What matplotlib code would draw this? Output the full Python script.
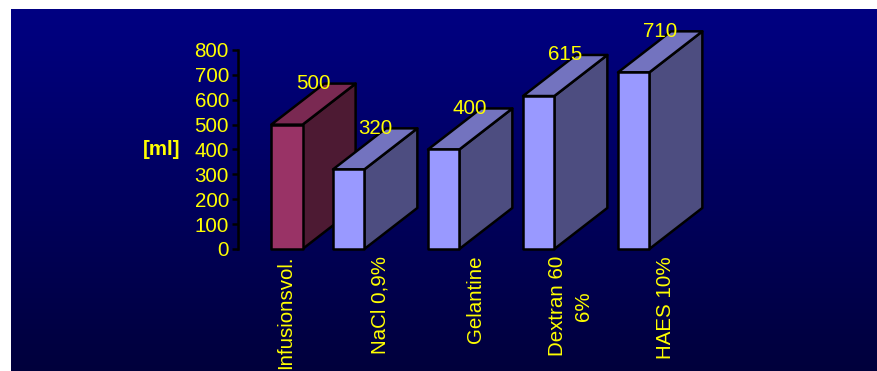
import numpy as np
import matplotlib
matplotlib.use("Agg")
import matplotlib.pyplot as plt
from matplotlib.patches import Polygon
from matplotlib.colors import LinearSegmentedColormap

# data
categories = ["Infusionsvol.", "NaCl 0,9%", "Gelantine", "Dextran 60\n6%", "HAES 10%"]
values = [500, 320, 400, 615, 710]
y_ticks = [0, 100, 200, 300, 400, 500, 600, 700, 800]
y_label = "[ml]"

# looks
YELLOW = "#FFFF00"
plt.rcParams['font.family'] = ['Liberation Sans', 'DejaVu Sans']
FS = 14.8
LW = 1.8
bar_w = 0.33          # front face width in category units
depth_x = 0.558       # 3d depth, category units
depth_y = 165         # 3d depth, value units
offsets = [0.35, 0.0, 0.0, 0.0, 0.0]
faces = [("#993366", "#4D1A33", "#7A2952")] + [("#9999FF", "#4D4D80", "#7373BF")] * 4

fig = plt.figure(figsize=(8.78, 3.71), dpi=100)
fig.patch.set_facecolor("white")

# gradient background
bg = fig.add_axes([11/878, 0, 867/878, 362/371])
bg.set_axis_off()
cmap = LinearSegmentedColormap.from_list("bg", ["#000082", "#00003C"])
grad = np.linspace(0, 1, 256).reshape(-1, 1)
bg.imshow(grad, aspect="auto", cmap=cmap, extent=[0, 1, 0, 1], origin="upper")

ax = fig.add_axes([238/878, (371-249)/371, 475/878, 199/371])
ax.set_facecolor("none")
ax.set_xlim(0, len(categories))
ax.set_ylim(0, 800)

for i, v in enumerate(values):
    x0 = i + offsets[i]
    x1 = x0 + bar_w
    front, side, top = faces[i]
    kw = dict(edgecolor="black", linewidth=LW, joinstyle="round", clip_on=False)
    ax.add_patch(Polygon([(x1, 0), (x1 + depth_x, depth_y), (x1 + depth_x, v + depth_y), (x1, v)],
                         facecolor=side, zorder=3 + 2*i, **kw))
    ax.add_patch(Polygon([(x0, v), (x0 + depth_x, v + depth_y), (x1 + depth_x, v + depth_y), (x1, v)],
                         facecolor=top, zorder=3 + 2*i, **kw))
    ax.add_patch(Polygon([(x0, 0), (x1, 0), (x1, v), (x0, v)],
                         facecolor=front, zorder=4 + 2*i, **kw))
    ax.text(x0 + bar_w/2 + depth_x/2, v + depth_y, str(v), color=YELLOW, fontsize=FS,
            ha="center", va="center", zorder=20, clip_on=False)

for s in ["top", "right", "bottom"]:
    ax.spines[s].set_visible(False)
ax.spines["left"].set_color("black")
ax.spines["left"].set_linewidth(LW)
ax.set_yticks(y_ticks)
ax.set_yticklabels([str(t) for t in y_ticks])
ax.tick_params(axis="y", colors="black", labelcolor=YELLOW, labelsize=FS,
               length=4.3, width=LW, pad=2.2)

ax.set_xticks(np.arange(len(categories)) + 0.5)
ax.set_xticklabels(categories, rotation=90, fontsize=FS, color=YELLOW,
                   va="top", ha="center", linespacing=1.45)
for t in ax.get_xticklabels():
    t.set_multialignment("center")
ax.tick_params(axis="x", length=0, pad=5)

fig.text(162/878, 1 - 150/371, y_label, color=YELLOW, fontsize=FS, fontweight="bold",
         ha="center", va="center")

fig.savefig("out.png", dpi=100, facecolor=fig.get_facecolor())
